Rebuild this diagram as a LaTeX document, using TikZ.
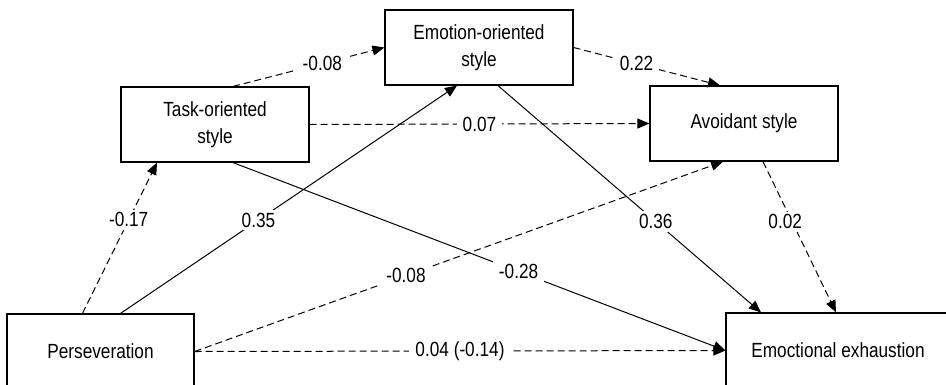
\documentclass[tikz,border=0pt]{standalone}
\usepackage{fontspec}
\setmainfont{Liberation Sans}[FakeStretch=0.84]
\usetikzlibrary{arrows.meta}

\begin{document}
\begin{tikzpicture}[x=1pt,y=-1pt,
  font=\fontsize{20.5}{27.5}\selectfont,
  box/.style={draw,line width=1.2pt,minimum width=188pt,minimum height=75pt,align=center,inner sep=0pt},
  eff/.style={line width=1pt,-{Triangle[length=12pt,width=10pt]}},
  effd/.style={eff,dash pattern=on 7pt off 4pt},
  coef/.style={fill=white,inner xsep=6pt,inner ysep=3pt}]
\useasboundingbox (0,0) rectangle (946,384);
\node[box] (emo) at (479,47.5) {Emotion-oriented\\style};
\node[box] (task) at (215,124.5) {Task-oriented\\style};
\node[box] (avo) at (744,123.5) {Avoidant style};
\node[box,minimum width=187pt] (pers) at (100.5,351.5) {Perseveration};
\node[box,minimum width=224pt] (exh) at (838,350.5) {Emoctional exhaustion};
% paths between coping styles
\draw[effd] ([xshift=18pt]task.north) -- node[coef,pos=0.59] {-0.08} (emo.west);
\draw[effd] (task.east) -- node[coef] {0.07} (avo.west);
\draw[effd] (emo.east) -- node[coef,pos=0.43] {0.22} ([xshift=-24pt]avo.north);
% paths from perseveration
\draw[effd] ([xshift=-18pt]pers.north) -- node[coef,pos=0.62] {-0.17} ([xshift=-58pt]task.south);
\draw[eff] ([xshift=20pt]pers.north) -- node[coef,pos=0.41] {0.35} ([xshift=-22pt]emo.south);
\draw[effd] (pers.east) -- node[coef,pos=0.4] {-0.08} ([xshift=-21pt]avo.south);
\draw[effd] (pers.east) -- node[coef,pos=0.5] {0.04 (-0.14)} (exh.west);
% paths to exhaustion
\draw[eff] ([xshift=18pt]task.south) -- node[coef,pos=0.58] {-0.28} (exh.west);
\draw[eff] ([xshift=19pt]emo.south) -- node[coef,pos=0.6] {0.36} ([xshift=-77pt]exh.north);
\draw[effd] ([xshift=19pt]avo.south) -- node[coef,pos=0.4,xshift=-7pt] {0.02} ([xshift=-2pt]exh.north);
\end{tikzpicture}
\end{document}
